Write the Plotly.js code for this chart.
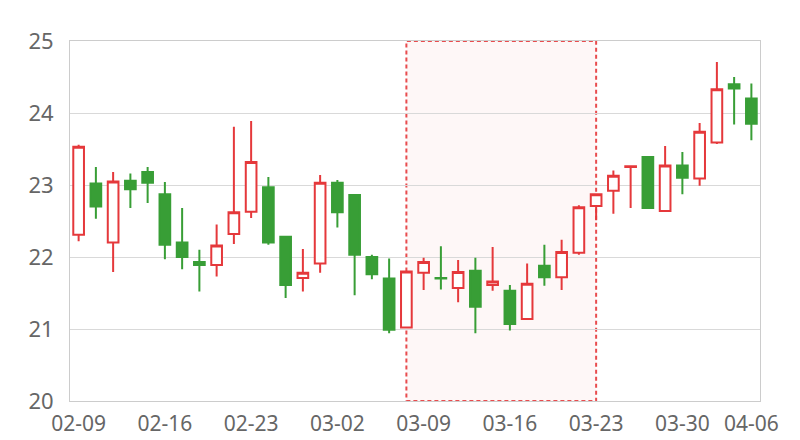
<!DOCTYPE html>
<html>
<head>
<meta charset="utf-8">
<script src="https://cdn.plot.ly/plotly-3.0.1.min.js"></script>
<style>html,body{margin:0;padding:0;background:#fff}#chart{width:800px;height:440px}</style>
</head>
<body>
<div id="chart"></div>
<script>
const dates = ["02-09","02-10","02-11","02-12","02-13","02-16","02-17","02-18","02-19","02-20",
  "02-23","02-24","02-25","02-26","02-27","03-02","03-03","03-04","03-05","03-06",
  "03-09","03-10","03-11","03-12","03-13","03-16","03-17","03-18","03-19","03-20",
  "03-23","03-24","03-25","03-26","03-27","03-30","03-31","04-01","04-02","04-06"];
const openV = [22.31,23.02,22.20,23.06,23.18,22.87,22.20,21.93,21.89,22.32,
  22.63,22.97,22.28,21.71,21.91,23.03,22.86,22.00,21.70,21.02,
  21.78,21.71,21.57,21.81,21.61,21.53,21.14,21.88,21.72,22.06,
  22.71,22.92,23.25,23.39,22.64,23.27,23.09,23.59,24.40,24.20];
const highV = [23.56,23.25,23.18,23.16,23.25,23.04,22.68,22.10,22.45,23.81,
  23.89,23.11,22.28,22.11,23.14,23.07,22.86,22.03,21.98,21.81,
  21.99,22.15,21.96,21.99,22.14,21.61,21.91,22.17,22.24,22.72,
  22.88,23.20,23.27,23.39,23.54,23.46,23.86,24.71,24.50,24.41];
const lowV = [22.22,22.53,21.79,22.68,22.75,21.97,21.83,21.52,21.73,22.18,
  22.54,22.17,21.43,21.52,21.78,22.41,21.47,21.69,20.94,21.01,
  21.54,21.55,21.37,20.94,21.53,20.98,21.14,21.60,21.54,22.03,
  22.51,22.60,22.68,22.67,22.64,22.87,22.99,23.57,23.84,23.62];
const closeV = [23.53,22.70,23.05,22.94,23.03,22.17,22.00,21.89,22.16,22.62,
  23.32,22.20,21.61,21.78,23.03,22.62,22.03,21.76,20.99,21.80,
  21.93,21.70,21.79,21.31,21.66,21.07,21.63,21.72,22.07,22.69,
  22.87,23.13,23.26,22.68,23.27,23.10,23.74,24.33,24.34,23.85];
const tickDates = ["02-09","02-16","02-23","03-02","03-09","03-16","03-23","03-30","04-06"];
const highlightStart = "03-06";
const highlightEnd = "03-23";

const RED = "#e5383b";
const GREEN = "#389e36";
const FONT = "Noto Sans, Open Sans, sans-serif";

const trace = {
  type: "candlestick",
  x: dates, open: openV, high: highV, low: lowV, close: closeV,
  increasing: {line: {color: RED, width: 2}, fillcolor: "#ffffff"},
  decreasing: {line: {color: GREEN, width: 2}, fillcolor: GREEN},
  whiskerwidth: 0,
  hoverinfo: "none"
};

const layout = {
  width: 800, height: 440,
  margin: {l: 70, r: 40, t: 41, b: 39},
  paper_bgcolor: "#fff", plot_bgcolor: "#fff",
  showlegend: false,
  boxgap: 0.38, boxgroupgap: 0,
  font: {family: FONT, size: 21, color: "#666"},
  xaxis: {
    type: "category",
    rangeslider: {visible: false},
    tickmode: "array", tickvals: tickDates, ticktext: tickDates,
    showgrid: false, showline: true, linecolor: "#cccccc", linewidth: 1, mirror: true,
    ticks: "", tickfont: {family: FONT, size: 21, color: "#666"},
    ticklabelstandoff: 4, fixedrange: true
  },
  yaxis: {
    range: [20, 25], dtick: 1, tick0: 20,
    showgrid: true, gridcolor: "#d9d9d9", gridwidth: 1,
    showline: true, linecolor: "#cccccc", linewidth: 1, mirror: true,
    zeroline: false, ticks: "", tickfont: {family: FONT, size: 22, color: "#666"},
    ticklabelstandoff: 11, fixedrange: true
  },
  shapes: [{
    type: "rect", xref: "x", yref: "paper",
    x0: highlightStart, x1: highlightEnd, y0: 0, y1: 1,
    fillcolor: "rgba(229,56,59,0.04)",
    line: {color: "rgba(229,56,59,0.9)", width: 2, dash: "4px,3px"},
    layer: "below"
  }]
};

Plotly.newPlot("chart", [trace], layout, {staticPlot: true, displayModeBar: false});
</script>
</body>
</html>
